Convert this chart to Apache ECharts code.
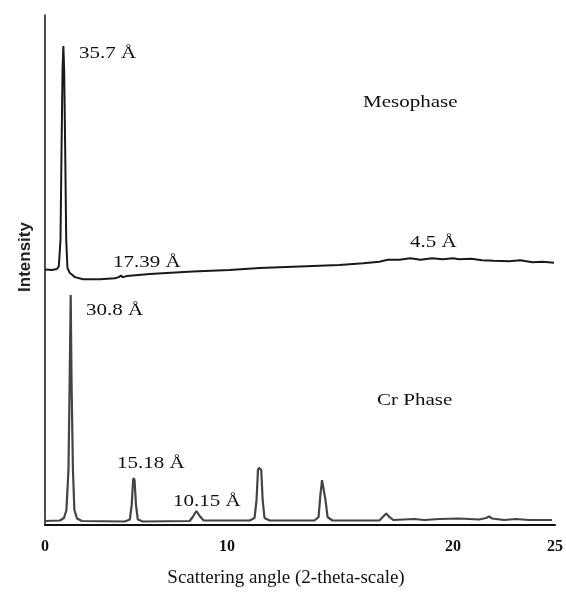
<!DOCTYPE html>
<html>
<head>
<meta charset="utf-8">
<script src="https://cdn.jsdelivr.net/npm/echarts@6/dist/echarts.min.js"></script>
<style>html,body{margin:0;padding:0;background:#fff}#c{width:566px;height:594px}</style>
</head>
<body>
<div id="c"></div>
<script>
// Mesophase trace (x in axis units, y in relative intensity, offset included)
const mesoX = [0, 0.34, 0.59, 0.68, 0.76, 0.81, 0.86, 0.90, 0.94, 0.99, 1.04, 1.10, 1.22, 1.47, 1.86, 2.69, 3.42, 3.62, 3.72, 3.82, 4.01, 5.14, 7.24, 9.05, 10.52, 12.48, 14.43, 15.6, 16.39, 16.8, 17.37, 17.9, 18.4, 18.98, 19.5, 20.0, 20.30, 20.9, 21.43, 22.0, 22.75, 23.3, 23.9, 24.4, 24.95];
const mesoY = [50.1, 50.0, 50.2, 50.8, 55.9, 73.5, 89.2, 93.9, 89.2, 73.5, 55.9, 50.4, 49.4, 48.6, 48.2, 48.2, 48.4, 48.6, 48.9, 48.6, 48.8, 49.2, 49.7, 50.0, 50.4, 50.7, 51.0, 51.3, 51.6, 52.0, 52.0, 52.3, 52.0, 52.3, 52.1, 52.3, 52.1, 52.2, 51.9, 51.8, 51.7, 51.9, 51.5, 51.6, 51.4];

// Crystalline phase trace
const crX = [0, 0.73, 0.93, 1.05, 1.15, 1.21, 1.26, 1.30, 1.37, 1.44, 1.57, 1.81, 3.91, 4.16, 4.25, 4.32, 4.35, 4.39, 4.46, 4.55, 4.79, 7.09, 7.24, 7.42, 7.58, 7.78, 10.03, 10.27, 10.37, 10.44, 10.48, 10.56, 10.60, 10.67, 10.76, 11.01, 13.21, 13.41, 13.50, 13.58, 13.62, 13.66, 13.75, 13.85, 14.09, 16.39, 16.58, 16.73, 16.88, 17.07, 18.10, 18.59, 19.32, 20.30, 20.79, 21.28, 21.62, 21.77, 21.92, 22.50, 23.09, 23.73, 24.85];
const crY = [0.78, 0.88, 1.37, 2.94, 10.8, 28.4, 45.1, 28.4, 10.8, 2.94, 1.27, 0.78, 0.69, 1.08, 3.92, 8.8, 9.2, 8.8, 3.92, 1.08, 0.69, 0.78, 1.57, 2.75, 1.76, 0.88, 0.88, 1.37, 4.9, 10.8, 11.2, 11.2, 10.8, 4.9, 1.37, 0.88, 0.88, 1.57, 5.9, 8.8, 9.0, 8.6, 4.9, 1.57, 0.88, 0.88, 1.67, 2.25, 1.57, 0.98, 1.18, 0.98, 1.18, 1.27, 1.18, 1.08, 1.37, 1.67, 1.27, 0.98, 1.18, 0.98, 0.98];

const xTicks = [0, 10, 20, 25];

const annTexts = ['35.7 Å', 'Mesophase', '17.39 Å', '4.5 Å', '30.8 Å', 'Cr Phase', '15.18 Å', '10.15 Å'];
const annPos = [[79, 53], [363, 102], [113, 262], [410, 242], [86, 310], [377, 400], [117, 463], [173, 501]];

const pairs = (xs, ys) => xs.map((x, i) => [x, ys[i]]);

const chart = echarts.init(document.getElementById('c'), null, {renderer: 'canvas'});
const serif = '"Liberation Serif", "Times New Roman", serif';

chart.setOption({
  backgroundColor: '#fff',
  animation: false,
  grid: {left: 45, right: 10, top: 15, bottom: 69},
  xAxis: {
    type: 'value', min: 0, max: 25, interval: 10,
    axisLine: {show: true, lineStyle: {color: '#111', width: 2}},
    axisTick: {show: false},
    splitLine: {show: false},
    axisLabel: {
      margin: 14, color: '#111', fontFamily: serif, fontSize: 16, fontWeight: 'bold',
      showMaxLabel: true, showMinLabel: true,
      formatter: v => v === 10 ? '{s|10}' : (xTicks.includes(v) ? String(v) : ''),
      rich: {s: {fontFamily: serif, fontSize: 16, fontWeight: 'bold', color: '#111', padding: [0, 44, 0, 0]}}
    },
    name: 'Scattering angle (2-theta-scale)', nameLocation: 'middle', nameGap: 44,
    nameTextStyle: {fontFamily: serif, fontSize: 19, color: '#111', padding: [0, 28, 0, 0]}
  },
  yAxis: {
    type: 'value', min: 0, max: 100,
    axisLine: {show: true, lineStyle: {color: '#111', width: 1.5}},
    axisTick: {show: false}, axisLabel: {show: false}, splitLine: {show: false},
    name: 'Intensity', nameLocation: 'middle', nameGap: 11, nameRotate: 90,
    nameTextStyle: {fontFamily: '"Liberation Sans", Arial, sans-serif', fontSize: 17, fontWeight: 'bold', color: '#222', padding: [0, 0, 0, 26]}
  },
  series: [
    {type: 'line', name: 'Mesophase', data: pairs(mesoX, mesoY), showSymbol: false, smooth: false,
     lineStyle: {color: '#1a1a1a', width: 2}},
    {type: 'line', name: 'Cr Phase', data: pairs(crX, crY), showSymbol: false, smooth: false,
     lineStyle: {color: '#444', width: 2.2}}
  ],
  graphic: annTexts.map((t, i) => ({
    type: 'text', x: annPos[i][0], y: annPos[i][1], scaleX: 1.2,
    style: {text: t, fill: '#111', font: '17.5px ' + serif, textAlign: 'left', textVerticalAlign: 'middle', align: 'left', verticalAlign: 'middle'}
  }))
});
</script>
</body>
</html>
